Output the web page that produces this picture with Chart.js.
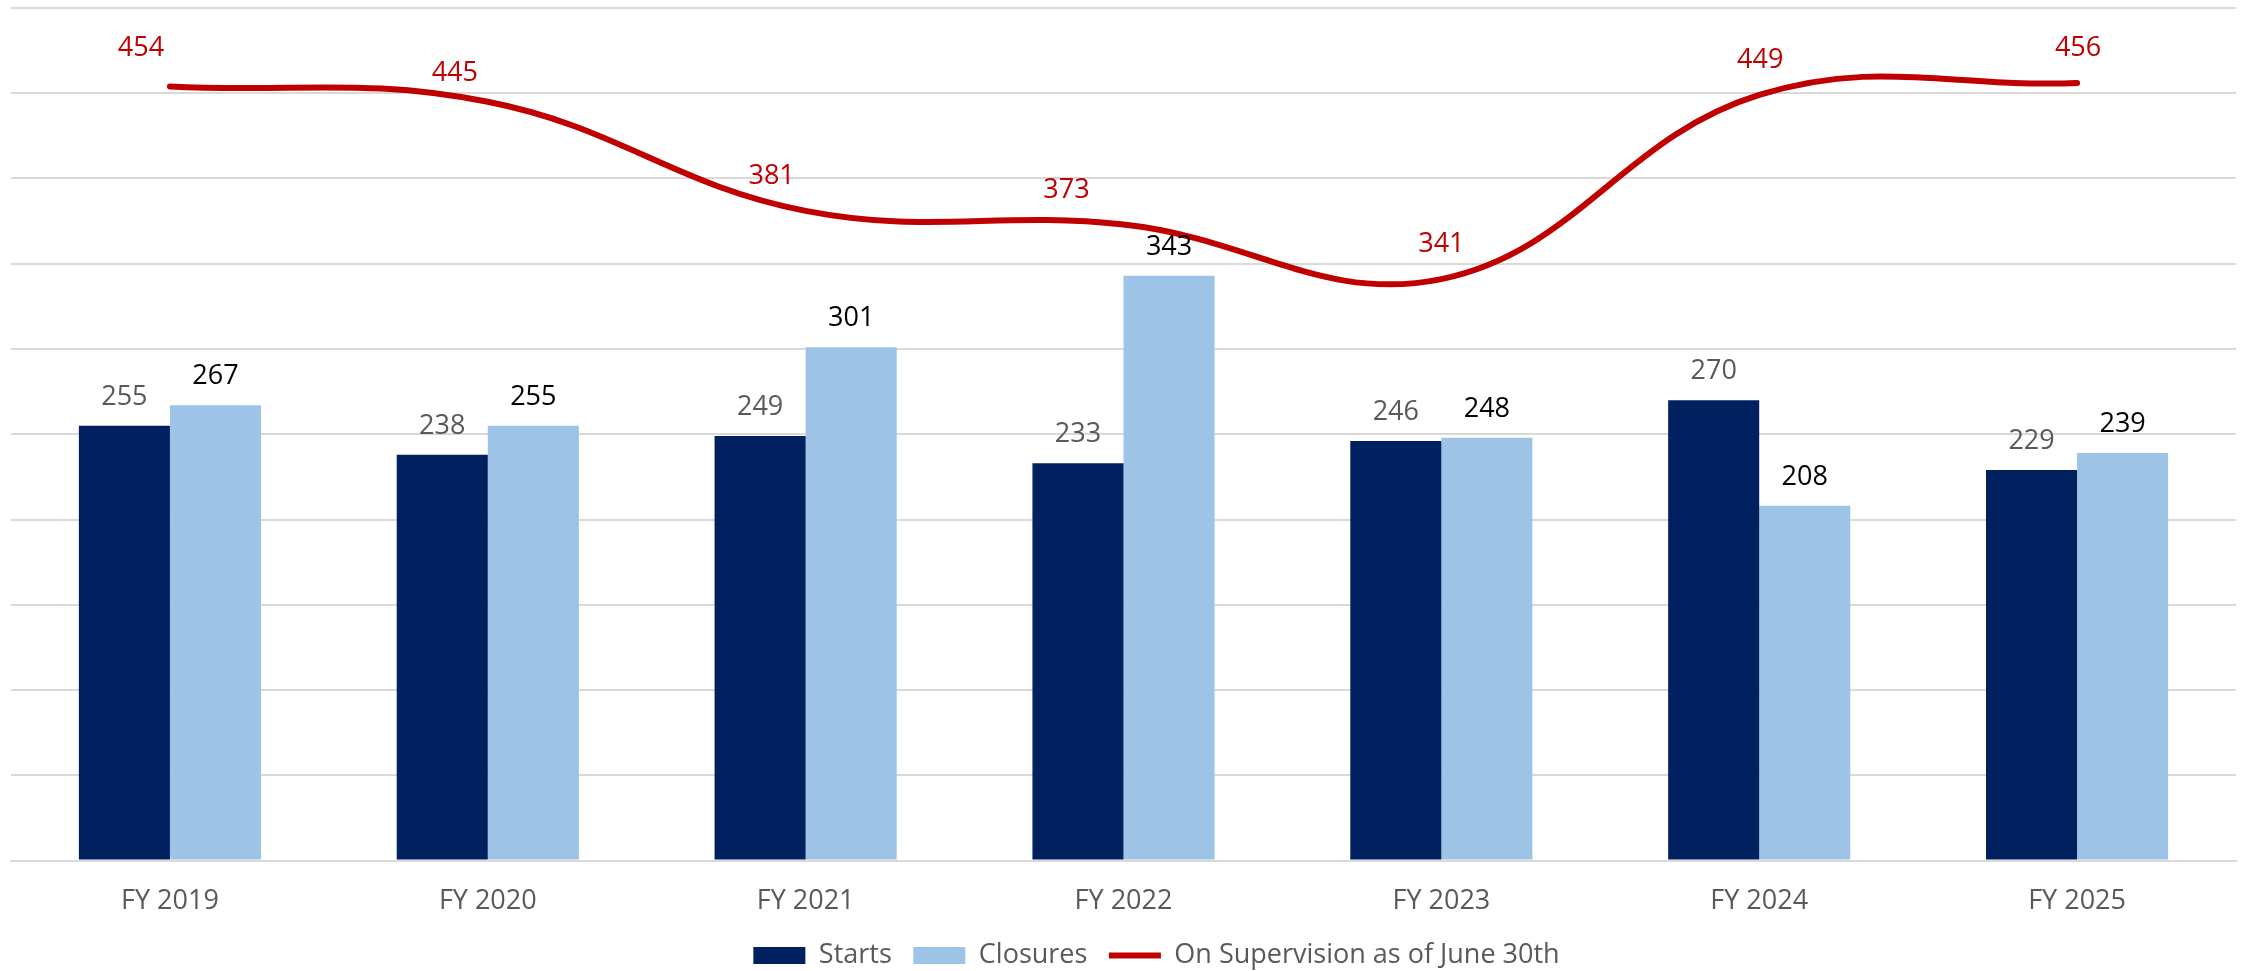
<!DOCTYPE html>
<html>
<head>
<meta charset="utf-8">
<script src="https://cdn.jsdelivr.net/npm/chart.js@4"></script>
<style>
  html, body { margin: 0; padding: 0; background: #fff; overflow: hidden; }
  /* canvas runs a few px past the window so the legend lands where Excel had it */
  #wrap { width: 2242px; height: 979px; }
</style>
</head>
<body>
<div id="wrap"><canvas id="chart"></canvas></div>
<script>
// ── data ─────────────────────────────────────────
const years         = ['FY 2019','FY 2020','FY 2021','FY 2022','FY 2023','FY 2024','FY 2025'];
const starts        = [255, 238, 249, 233, 246, 270, 229];
const closures      = [267, 255, 301, 343, 248, 208, 239];
const onSupervision = [454, 445, 381, 373, 341, 449, 456];

// label nudges for the red line (Excel had them hand-placed)
const LINE_LABEL_DX = [-29, -33, -34, -57, 0, 1, 1];
const LINE_LABEL_DY = [-3, 6, 0, 0, 0, 0, 0];

const FONT = 'Open Sans';
const GRID = '#D9D9D9';

// draws the value labels above bars and line points
const valueLabels = {
  id: 'valueLabels',
  afterDatasetsDraw(chart) {
    const ctx = chart.ctx;
    ctx.save();
    ctx.font = `27px "${FONT}"`;
    ctx.textAlign = 'center';
    ctx.textBaseline = 'alphabetic';
    chart.data.datasets.forEach((ds, di) => {
      const meta = chart.getDatasetMeta(di);
      meta.data.forEach((el, i) => {
        const v = ds.data[i];
        if (ds.type === 'line') {
          ctx.fillStyle = '#C00000';
          ctx.fillText(v, el.x + LINE_LABEL_DX[i], el.y - 27 + LINE_LABEL_DY[i]);
        } else {
          ctx.fillStyle = di === 0 ? '#595959' : '#000000';
          ctx.fillText(v, el.x, el.y - 21);
        }
      });
    });
    ctx.restore();
  }
};

// nudge legend a bit right, as in the original
const legendShift = {
  id: 'legendShift',
  afterLayout(chart) {
    if (!chart.legend) return;
    chart.legend.left += 33;
    chart.legend.right += 33;
  }
};

new Chart(document.getElementById('chart'), {
  type: 'bar',
  data: {
    labels: years,
    datasets: [
      {
        label: 'Starts',
        data: starts,
        backgroundColor: '#002060',
        pointStyle: 'rect',
        categoryPercentage: 0.573,
        barPercentage: 1.0,
        order: 1,
      },
      {
        label: 'Closures',
        data: closures,
        backgroundColor: '#9DC3E6',
        pointStyle: 'rect',
        categoryPercentage: 0.573,
        barPercentage: 1.0,
        order: 1,
      },
      {
        type: 'line',
        label: 'On Supervision as of June 30th',
        data: onSupervision,
        borderColor: '#C00000',
        backgroundColor: '#C00000',
        borderWidth: 6,
        borderCapStyle: 'round',
        tension: 0.4,
        pointRadius: 0,
        pointStyle: 'line',
        fill: false,
        order: 0,
      },
    ],
  },
  options: {
    responsive: true,
    maintainAspectRatio: false,
    animation: false,
    layout: { padding: { left: 11, right: 6, top: 8, bottom: 0 } },
    scales: {
      x: {
        grid: { display: false, drawTicks: false },
        border: { display: true, color: GRID, width: 2 },
        ticks: {
          color: '#595959',
          padding: 25,
          font: { family: FONT, size: 27 },
          maxRotation: 0,
          autoSkip: false,
        },
        // keep the axis box just tall enough for the labels
        afterFit: scale => { scale.height = 60; },
      },
      y: {
        min: 0, max: 500,
        ticks: { display: false, stepSize: 50 },
        grid: { color: GRID, lineWidth: 2, drawTicks: false },
        border: { display: false },
      },
    },
    plugins: {
      legend: {
        position: 'bottom',
        labels: {
          usePointStyle: true,
          pointStyleWidth: 52,
          boxHeight: 17,
          padding: 21.5,
          color: '#595959',
          font: { family: FONT, size: 27 },
          sort: (a, b) => a.datasetIndex - b.datasetIndex,
        },
      },
      tooltip: { enabled: false },
    },
  },
  plugins: [valueLabels, legendShift],
});
</script>
</body>
</html>
